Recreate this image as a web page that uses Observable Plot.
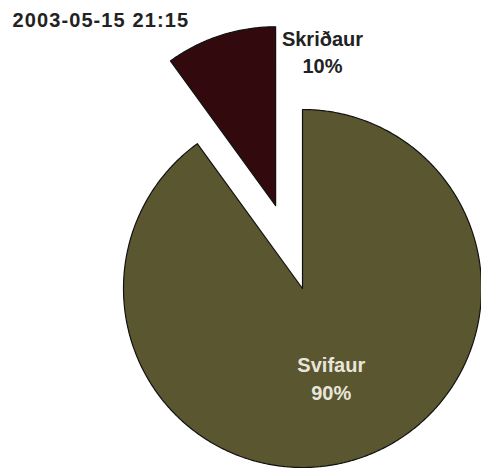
<!DOCTYPE html>
<html>
<head>
<meta charset="utf-8">
<script src="https://cdn.jsdelivr.net/npm/d3@7"></script>
<script src="https://cdn.jsdelivr.net/npm/@observablehq/plot@0.6"></script>
<style>
  html, body { margin: 0; padding: 0; background: #fff; }
  #chart svg { display: block; }
</style>
</head>
<body>
<div id="chart"></div>
<script>
// ---- data ----
const title = "2003-05-15 21:15";
const categories = ["Svifaur", "Skriðaur"];
const values = [90, 10];
const percentLabels = ["90%", "10%"];
const colors = ["#5a5630", "#320a0e"];
const labelColors = ["#e8e6dc", "#222222"];

// ---- layout (not data) ----
const W = 481, H = 469;
const R = 179;              // radius in px
const CX = 302, CY = 288;   // pie centre in px
const explode = [0, 0.486]; // offset of each slice, in radii
const labelPlace = [{r: 0.52, angle: null}, {r: 1.333, angle: 4.8}];

const rows = categories.map((name, i) => ({name, value: values[i], pct: percentLabels[i], i}));
const arcs = d3.pie().sort(null).value(d => d.value)(rows);

// polygon points for each slice (unit radius, y up, angle clockwise from 12 o'clock)
const pts = [];
const labels = [];
for (const a of arcs) {
  const i = a.data.i;
  const mid = (a.startAngle + a.endAngle) / 2;
  const ox = explode[i] * Math.sin(mid), oy = explode[i] * Math.cos(mid);
  pts.push({name: a.data.name, x: ox, y: oy});
  const n = Math.ceil((a.endAngle - a.startAngle) / (Math.PI / 360));
  for (let k = 0; k <= n; k++) {
    const t = a.startAngle + (a.endAngle - a.startAngle) * k / n;
    pts.push({name: a.data.name, x: ox + Math.sin(t), y: oy + Math.cos(t)});
  }
  const lp = labelPlace[i];
  const la = lp.angle == null ? mid : lp.angle * Math.PI / 180;
  labels.push({text: a.data.name + "\n" + a.data.pct, x: lp.r * Math.sin(la), y: lp.r * Math.cos(la), color: labelColors[i]});
}

const chart = Plot.plot({
  width: W,
  height: H,
  margin: 0,
  x: {domain: [-CX / R, (W - CX) / R], axis: null},
  y: {domain: [-(H - CY) / R, CY / R], axis: null},
  color: {domain: categories, range: colors},
  style: {fontFamily: "'Liberation Sans', Arial, sans-serif", background: "#fff"},
  marks: [
    Plot.line(pts, {x: "x", y: "y", z: "name", fill: "name", stroke: "#111", strokeWidth: 1.2, curve: "linear-closed"}),
    Plot.text(labels, {x: "x", y: "y", text: "text", fill: d => d.color, fontSize: 20, fontWeight: "bold", lineHeight: 1.38, lineAnchor: "middle"}),
    Plot.text([title], {frameAnchor: "top-left", dx: 12, dy: 12.5, fontSize: 20, fontWeight: "bold", fill: "#222"})
  ]
});
chart.querySelectorAll("text").forEach(el => {
  if (el.textContent === title) el.setAttribute("letter-spacing", "1.1");
});
document.getElementById("chart").appendChild(chart);
</script>
</body>
</html>
